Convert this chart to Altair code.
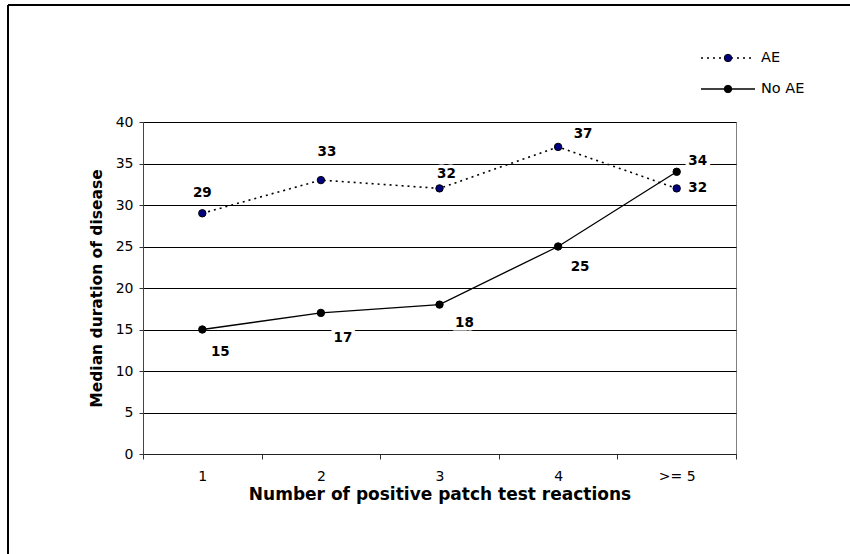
import altair as alt
import pandas as pd

# Number of positive patch test reactions (category axis)
categories = ["1", "2", "3", "4", ">= 5"]
# Median duration of disease per group
ae_values = [29, 33, 32, 37, 32]
no_ae_values = [15, 17, 18, 25, 34]
series_names = ["AE", "No AE"]

# Pixel nudges for each value label (dx, dy), per series
ae_label_offsets = [(0, -20), (6, -28), (7, -14), (25, -13), (21, 0)]
no_ae_label_offsets = [(18, 22), (22, 25), (25, 18), (22, 20), (21, -11)]

rows = []
for c, v in zip(categories, ae_values):
    rows.append({"category": c, "series": "AE", "value": v})
for c, v in zip(categories, no_ae_values):
    rows.append({"category": c, "series": "No AE", "value": v})
df = pd.DataFrame(rows)

FONT = "DejaVu Sans"
W, H = 593, 332

x_enc = alt.X(
    "category:N",
    sort=categories,
    scale=alt.Scale(type="band", paddingInner=0, paddingOuter=0),
    axis=alt.Axis(
        title="Number of positive patch test reactions",
        labelAngle=0,
        tickBand="extent",
        tickSize=5,
        tickColor="#333333",
        domainColor="#222222",
        labelPadding=10,
        labelFontSize=14,
        labelFont=FONT,
        labelColor="black",
        titleFont=FONT,
        titleFontSize=17,
        titleFontWeight="bold",
        titleColor="black",
        titleX=W / 2,
        titleY=40,
        titleBaseline="middle",
        grid=False,
    ),
)
y_enc = alt.Y(
    "value:Q",
    scale=alt.Scale(domain=[0, 40], nice=False),
    axis=alt.Axis(
        title="Median duration of disease",
        values=list(range(0, 41, 5)),
        tickSize=4,
        tickColor="#333333",
        domainColor="#444444",
        labelPadding=6,
        labelFontSize=14,
        labelFont=FONT,
        labelColor="black",
        titleFont=FONT,
        titleFontSize=15.5,
        titleFontWeight="bold",
        titleColor="black",
        titleAngle=270,
        titleX=-47,
        titleY=H / 2,
        titleAlign="center",
        titleBaseline="middle",
        grid=True,
        gridColor="black",
        gridWidth=1,
    ),
)

base = alt.Chart(df)

ae_line = base.transform_filter(alt.datum.series == "AE").mark_line(
    color="black", strokeWidth=1.6, strokeDash=[2, 4]
).encode(x=x_enc, y=y_enc)
no_ae_line = base.transform_filter(alt.datum.series == "No AE").mark_line(
    color="black", strokeWidth=1.3
).encode(x=x_enc, y=y_enc)

ae_points = base.transform_filter(alt.datum.series == "AE").mark_point(
    filled=True, fill="#000080", stroke="black", strokeWidth=1, size=55, shape="circle", opacity=1
).encode(x=x_enc, y=y_enc)
no_ae_points = base.transform_filter(alt.datum.series == "No AE").mark_point(
    filled=True, fill="black", stroke="black", strokeWidth=1, size=55, shape="circle", opacity=1
).encode(x=x_enc, y=y_enc)

# Value labels: white halo underneath, black bold text on top
label_layers = []
for series, offsets in (("AE", ae_label_offsets), ("No AE", no_ae_label_offsets)):
    for c, (dx, dy) in zip(categories, offsets):
        sel = base.transform_filter(
            (alt.datum.series == series) & (alt.datum.category == c)
        )
        common = dict(dx=dx, dy=dy, font=FONT, fontSize=13.5, fontWeight="bold",
                      align="center", baseline="middle")
        halo = sel.mark_text(stroke="white", strokeWidth=7, fill="white", **common).encode(
            x=x_enc, y=y_enc, text=alt.Text("value:Q")
        )
        txt = sel.mark_text(fill="black", **common).encode(
            x=x_enc, y=y_enc, text=alt.Text("value:Q")
        )
        label_layers += [halo, txt]

# Legend drawn in the upper right, above the plot area
one = alt.Chart(pd.DataFrame({"series": series_names}))
legend_layers = []
for i, name in enumerate(series_names):
    ly = -64 + i * 31
    sel = one.transform_filter(alt.datum.series == name)
    if name == "AE":
        line = sel.mark_rule(color="black", strokeWidth=1.6, strokeDash=[2, 4])
        fill = "#000080"
    else:
        line = sel.mark_rule(color="black", strokeWidth=1.3)
        fill = "black"
    legend_layers.append(line.encode(x=alt.value(558), x2=alt.value(612), y=alt.value(ly)))
    legend_layers.append(
        sel.mark_point(filled=True, fill=fill, stroke="black", strokeWidth=1, size=55, opacity=1)
        .encode(x=alt.value(585), y=alt.value(ly))
    )
    legend_layers.append(
        sel.mark_text(align="left", baseline="middle", font=FONT, fontSize=14.5, color="black")
        .encode(x=alt.value(618), y=alt.value(ly), text="series:N")
    )

# Outer chart frame: only its top and left edges fall inside the page
frame_src = one.transform_filter(alt.datum.series == "AE")
frame_top = frame_src.mark_rule(color="black", strokeWidth=2).encode(
    x=alt.value(-135), x2=alt.value(720), y=alt.value(-117)
)
frame_left = frame_src.mark_rule(color="black", strokeWidth=2).encode(
    x=alt.value(-135), y=alt.value(-117), y2=alt.value(440)
)

chart = alt.layer(
    frame_top, frame_left,
    ae_line, no_ae_line, ae_points, no_ae_points,
    *label_layers,
    *legend_layers,
).properties(
    width=W,
    height=H,
    autosize=alt.AutoSizeParams(type="none"),
    padding={"left": 143, "top": 122, "right": 114, "bottom": 100},
    background="white",
).configure_view(
    stroke="#808080", strokeWidth=1
)

chart.save("out.html", embed_options={"renderer": "svg", "actions": False})
